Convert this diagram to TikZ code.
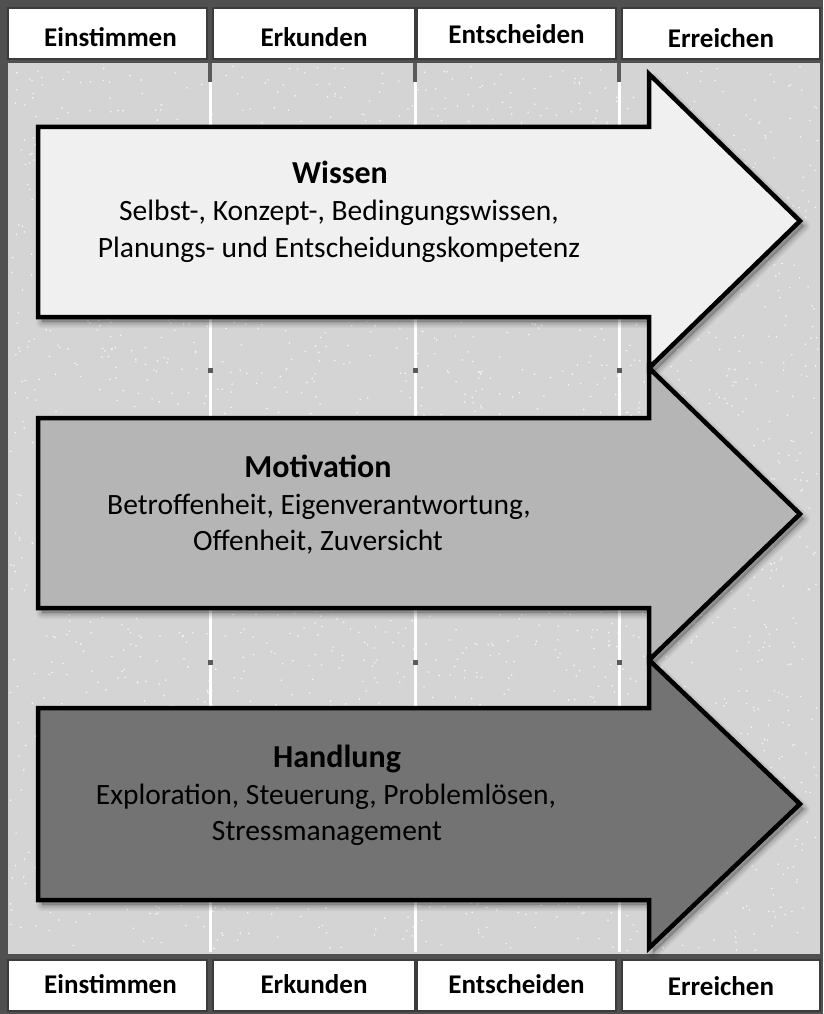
\documentclass[tikz,border=0pt]{standalone}
\usepackage{fontspec}
\setmainfont{Carlito}
\definecolor{frame}{HTML}{505050}
\definecolor{boxline}{HTML}{3C3C3C}
\definecolor{panel}{HTML}{D4D4D4}
\definecolor{fillA}{HTML}{F0F0F0}
\definecolor{fillB}{HTML}{B5B5B5}
\definecolor{fillC}{HTML}{737373}
\definecolor{tick}{HTML}{5A5A5A}
\tikzset{
  phasebox/.style={draw=boxline, line width=1.5pt, fill=white, inner sep=0pt,
                   minimum height=51pt},
  phaselabel/.style={anchor=base, font=\fontsize{27}{31}\selectfont\bfseries, inner sep=0pt},
  heading/.style={anchor=base, font=\fontsize{32}{37}\selectfont\bfseries, inner sep=0pt},
  bodytext/.style={anchor=base, font=\fontsize{29.5}{35}\selectfont, inner sep=0pt},
  arrowline/.style={draw=black, line width=4.5pt, line join=miter},
  divider/.style={white, line width=3pt},
  dividertop/.style={tick, line width=4pt},
}
% block arrow: body from x=38 to x=649, head from x=649 to the tip at x=800
% #1 body top, #2 body bottom, #3 head top, #4 tip, #5 head bottom
\newcommand\blockarrow[5]{(38,#1) -- (649,#1) -- (649,#3) -- (800,#4) -- (649,#5) -- (649,#2) -- (38,#2) -- cycle}
\newcommand\arrowshadow[5]{%
  \foreach \w/\o in {12/0.04,9/0.05,6/0.06,3/0.07}{%
    \fill[black, opacity=\o, shift={(4pt,-5pt)}] \blockarrow{#1}{#2}{#3}{#4}{#5};
    \draw[black, opacity=\o, line width=\w pt, line join=round, shift={(4pt,-5pt)}] \blockarrow{#1}{#2}{#3}{#4}{#5};
  }}
\begin{document}
\begin{tikzpicture}[x=1pt, y=-1pt]
  \useasboundingbox (0,0) rectangle (823,1014);
  % dark frame and grey working area
  \fill[frame] (0,0) rectangle (823,1014);
  \fill[panel] (8,63) rectangle (820,954);
  % speckle texture
  \pgfmathsetseed{4711}
  \foreach \i in {1,...,2600}{
    \fill[white, opacity=0.8] ({10+808*rnd},{66+885*rnd}) circle (0.9);
  }
  % column dividers
  \foreach \x in {210,415,619}{
    \draw[divider] (\x,82) -- (\x,952);
    \draw[dividertop] (\x,63) -- (\x,82);
    \fill[tick] (\x-2.5,367.5) rectangle (\x+2.5,372.5);
    \fill[tick] (\x-2.5,659.5) rectangle (\x+2.5,664.5);
  }
  % phase headers, top and bottom
  \foreach \n/\xa/\xb in {1/8/207, 2/213/415, 3/417/616, 4/622/820}{
    \node[phasebox, minimum width=\xb-\xa] (top\n) at ({(\xa+\xb)/2},33.5) {};
    \node[phasebox, minimum width=\xb-\xa] (bot\n) at ({(\xa+\xb)/2},985.5) {};
  }
  \node[phaselabel] (top1t) at ([xshift=3pt,yshift=-13pt]top1.center) {Einstimmen};
  \node[phaselabel] (top2t) at ([yshift=-13pt]top2.center) {Erkunden};
  \node[phaselabel] (top3t) at ([yshift=-10pt]top3.center) {Entscheiden};
  \node[phaselabel] (top4t) at ([yshift=-14.5pt]top4.center) {Erreichen};
  \node[phaselabel] (bot1t) at ([xshift=3pt,yshift=-7.5pt]bot1.center) {Einstimmen};
  \node[phaselabel] (bot2t) at ([yshift=-7.5pt]bot2.center) {Erkunden};
  \node[phaselabel] (bot3t) at ([yshift=-7.5pt]bot3.center) {Entscheiden};
  \node[phaselabel] (bot4t) at ([yshift=-9.5pt]bot4.center) {Erreichen};
  % shadows of the three arrows
  \arrowshadow{127}{317}{74}{221}{368}
  \arrowshadow{418}{608}{368}{514}{660}
  \arrowshadow{708}{900}{660}{804}{948}
  % the arrows
  \fill[fillA] \blockarrow{127}{317}{74}{221}{368};
  \draw[arrowline] \blockarrow{127}{317}{74}{221}{368};
  \fill[fillB] \blockarrow{418}{608}{368}{514}{660};
  \draw[arrowline] \blockarrow{418}{608}{368}{514}{660};
  \fill[fillC] \blockarrow{708}{900}{660}{804}{948};
  \draw[arrowline] \blockarrow{708}{900}{660}{804}{948};
  % arrow texts
  \node[heading]  (wissen)  at (340,183) {Wissen};
  \node[bodytext] (wissen1) at (339,220) {Selbst-, Konzept-, Bedingungswissen,};
  \node[bodytext] (wissen2) at (339,257) {Planungs- und Entscheidungskompetenz};
  \node[heading]  (motiv)   at (318,477) {Motivation};
  \node[bodytext] (motiv1)  at (319,514) {Betroffenheit, Eigenverantwortung,};
  \node[bodytext] (motiv2)  at (318,550) {Offenheit, Zuversicht};
  \node[heading]  (handl)   at (337,767) {Handlung};
  \node[bodytext] (handl1)  at (326,804) {Exploration, Steuerung, Problemlösen,};
  \node[bodytext] (handl2)  at (327,840) {Stressmanagement};
\end{tikzpicture}
\end{document}
